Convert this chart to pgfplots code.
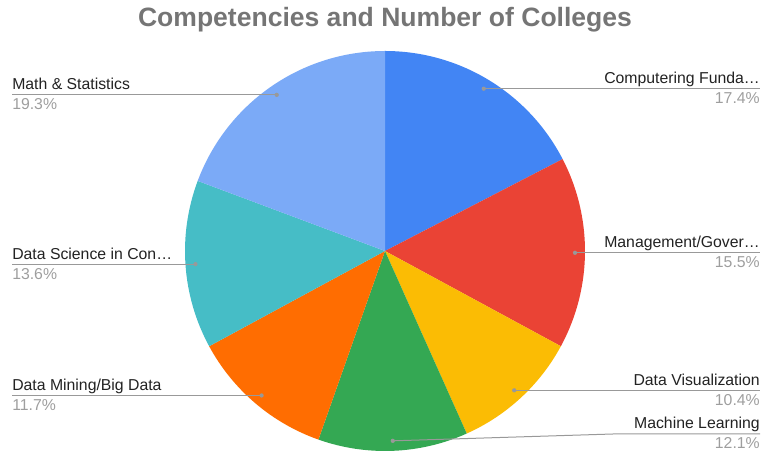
\documentclass[border=0pt]{standalone}
\usepackage{fontspec}
\setmainfont{Liberation Sans}
\usepackage{pgfplots}
\usepackage{pgfplotstable}
\pgfplotsset{compat=1.18}
\definecolor{pc0}{HTML}{4285F4}
\definecolor{pc1}{HTML}{EA4335}
\definecolor{pc2}{HTML}{FBBC04}
\definecolor{pc3}{HTML}{34A853}
\definecolor{pc4}{HTML}{FF6D01}
\definecolor{pc5}{HTML}{46BDC6}
\definecolor{pc6}{HTML}{7BAAF7}
\definecolor{titlegray}{HTML}{757575}
\definecolor{namecol}{HTML}{222222}
\definecolor{pctcol}{HTML}{9E9E9E}
\definecolor{linecol}{HTML}{999999}

\pgfplotstableread{
pct
17.4
15.5
10.4
12.1
11.7
13.6
19.3
}\piedata

\begin{document}
\begin{tikzpicture}
\gdef\cum{0}
\foreach \i in {0,...,6}{%
  \pgfplotstablegetelem{\i}{pct}\of\piedata
  \let\v\pgfplotsretval
  \pgfmathsetmacro\sa{90-3.6*\cum}
  \pgfmathsetmacro\ea{90-3.6*(\cum+\v)}
  \pgfmathsetmacro\ma{(\sa+\ea)/2}
  \expandafter\xdef\csname sa\i\endcsname{\sa}
  \expandafter\xdef\csname ea\i\endcsname{\ea}
  \expandafter\xdef\csname ma\i\endcsname{\ma}
  \expandafter\xdef\csname pv\i\endcsname{\v}
  \pgfmathsetmacro\newcum{\cum+\v}
  \xdef\cum{\newcum}
}
\begin{axis}[hide axis, x=0.75pt, y=0.75pt, xmin=0, xmax=761, ymin=0, ymax=453, clip=false]
\path (axis cs:0,0) rectangle (axis cs:761,453);
\pgfplotsinvokeforeach{0,...,6}{
  \fill[pc#1] (axis cs:385,202) -- ++(\csname sa#1\endcsname:150pt)
    arc[start angle=\csname sa#1\endcsname, end angle=\csname ea#1\endcsname, radius=150pt] -- cycle;
  \path (axis cs:385,202) ++(\csname ma#1\endcsname:142.5pt) coordinate (d#1);
}
% title
\node[anchor=base, font=\bfseries\fontsize{19.9}{24}\selectfont, text=titlegray] at (axis cs:385,426) {Competencies and Number of Colleges};
% right labels
\tikzset{lname/.style={font=\fontsize{11.85}{14}\selectfont, text=namecol, inner sep=0pt},
         lpct/.style={font=\fontsize{11.85}{14}\selectfont, text=pctcol, inner sep=0pt}}
\draw[linecol, line width=0.75pt] (d0) -- (d0 -| {axis cs:760,0});
\node[lname, anchor=base east] at ([yshift=3.75pt]d0 -| {axis cs:760,0}) {Computering Funda…};
\node[lpct, anchor=base east] at ([yshift=-11.25pt]d0 -| {axis cs:760,0}) {\csname pv0\endcsname\%};
\draw[linecol, line width=0.75pt] (d1) -- (d1 -| {axis cs:760,0});
\node[lname, anchor=base east] at ([yshift=3.75pt]d1 -| {axis cs:760,0}) {Management/Gover…};
\node[lpct, anchor=base east] at ([yshift=-11.25pt]d1 -| {axis cs:760,0}) {\csname pv1\endcsname\%};
\draw[linecol, line width=0.75pt] (d2) -- (d2 -| {axis cs:760,0});
\node[lname, anchor=base east] at ([yshift=3.75pt]d2 -| {axis cs:760,0}) {Data Visualization};
\node[lpct, anchor=base east] at ([yshift=-11.25pt]d2 -| {axis cs:760,0}) {\csname pv2\endcsname\%};
\draw[linecol, line width=0.75pt] (d3) -- (axis cs:613,19) -- (axis cs:760,19);
\node[lname, anchor=base east] at ([yshift=3.75pt]axis cs:760,19) {Machine Learning};
\node[lpct, anchor=base east] at ([yshift=-11.25pt]axis cs:760,19) {\csname pv3\endcsname\%};
% left labels
\draw[linecol, line width=0.75pt] (d4) -- (d4 -| {axis cs:12,0});
\node[lname, anchor=base west] at ([yshift=3.75pt]d4 -| {axis cs:12,0}) {Data Mining/Big Data};
\node[lpct, anchor=base west] at ([yshift=-11.25pt]d4 -| {axis cs:12,0}) {\csname pv4\endcsname\%};
\draw[linecol, line width=0.75pt] (d5) -- (d5 -| {axis cs:12,0});
\node[lname, anchor=base west] at ([yshift=3.75pt]d5 -| {axis cs:12,0}) {Data Science in Con…};
\node[lpct, anchor=base west] at ([yshift=-11.25pt]d5 -| {axis cs:12,0}) {\csname pv5\endcsname\%};
\draw[linecol, line width=0.75pt] (d6) -- (d6 -| {axis cs:12,0});
\node[lname, anchor=base west] at ([yshift=3.75pt]d6 -| {axis cs:12,0}) {Math \& Statistics};
\node[lpct, anchor=base west] at ([yshift=-11.25pt]d6 -| {axis cs:12,0}) {\csname pv6\endcsname\%};
% dots
\pgfplotsinvokeforeach{0,...,6}{
  \fill[linecol] (d#1) circle (1.6pt);
}
\end{axis}
\end{tikzpicture}
\end{document}
